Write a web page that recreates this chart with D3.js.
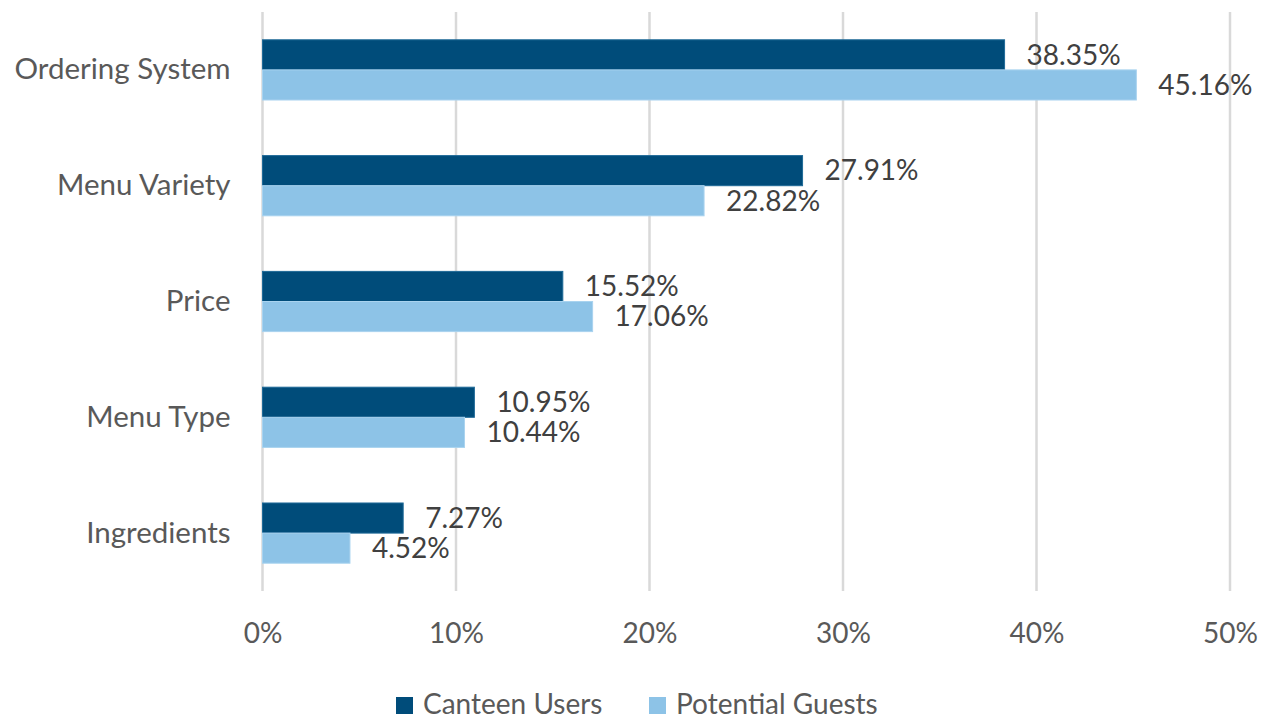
<!DOCTYPE html>
<html>
<head>
<meta charset="utf-8">
<script src="https://cdn.jsdelivr.net/npm/d3@7"></script>
<style>
  body { margin: 0; background: #fff; }
  text { font-family: Lato, "Open Sans", sans-serif; }
</style>
</head>
<body>
<div id="vis"></div>
<script>
// Chart data
const categories = ['Ordering System', 'Menu Variety', 'Price', 'Menu Type', 'Ingredients'];
const canteenUsers = [38.35, 27.91, 15.52, 10.95, 7.27];
const potentialGuests = [45.16, 22.82, 17.06, 10.44, 4.52];
const seriesNames = ['Canteen Users', 'Potential Guests'];
const xTicks = [0, 10, 20, 30, 40, 50];

const colors = { 'Canteen Users': '#004c7a', 'Potential Guests': '#8dc3e7' };
const strokes = { 'Canteen Users': '#1f6a98', 'Potential Guests': '#a9d3ef' };

const W = 1265, H = 720;
const plot = { left: 262.5, right: 1230, top: 12, bottom: 591 };

const svg = d3.select('#vis').append('svg')
    .attr('width', W)
    .attr('height', H);

const xScale = d3.scaleLinear().domain([0, 50]).range([plot.left, plot.right]);
const yScale = d3.scaleBand().domain(categories)
    .range([plot.top, plot.bottom])
    .paddingInner(0.48)
    .paddingOuter(0.24);
const subScale = d3.scaleBand().domain(seriesNames).range([0, yScale.bandwidth()]);

// Gridlines
svg.append('g').selectAll('line')
    .data(xTicks)
    .join('line')
    .attr('x1', d => xScale(d)).attr('x2', d => xScale(d))
    .attr('y1', plot.top).attr('y2', plot.bottom)
    .attr('stroke', '#d9d9d9')
    .attr('stroke-width', 2.5);

// x axis tick labels
const xAxis = d3.axisBottom(xScale).tickValues(xTicks).tickFormat(d => d + '%').tickSize(0).tickPadding(0);
const xg = svg.append('g').attr('transform', `translate(0, 633)`).call(xAxis);
xg.select('.domain').remove();
xg.selectAll('text')
    .attr('dy', '0.35em')
    .attr('fill', '#595959')
    .style('font-size', '28px')
    .style('font-family', 'Lato, sans-serif');

// y axis category labels
const yAxis = d3.axisLeft(yScale).tickSize(0).tickPadding(32);
const yg = svg.append('g').attr('transform', `translate(${plot.left}, 0)`).call(yAxis);
yg.select('.domain').remove();
yg.selectAll('text')
    .attr('fill', '#595959')
    .style('font-size', '29.5px')
    .style('font-family', 'Lato, sans-serif');

// Bars
const rows = categories.map((c, i) => ({
    cat: c,
    values: [
        { series: 'Canteen Users', value: canteenUsers[i] },
        { series: 'Potential Guests', value: potentialGuests[i] }
    ]
}));

const groups = svg.append('g').selectAll('g')
    .data(rows)
    .join('g')
    .attr('transform', d => `translate(0, ${yScale(d.cat)})`);

groups.selectAll('rect')
    .data(d => d.values)
    .join('rect')
    .attr('x', xScale(0))
    .attr('y', d => subScale(d.series))
    .attr('width', d => xScale(d.value) - xScale(0))
    .attr('height', subScale.bandwidth())
    .attr('fill', d => colors[d.series])
    .attr('stroke', d => strokes[d.series])
    .attr('stroke-width', 1);

groups.selectAll('text')
    .data(d => d.values)
    .join('text')
    .attr('x', d => xScale(d.value) + 22)
    .attr('y', d => subScale(d.series) + subScale.bandwidth() / 2)
    .attr('dy', '0.35em')
    .attr('fill', '#404040')
    .style('font-size', '28px')
    .text(d => d.value.toFixed(2) + '%');

// Legend
const legendX = [396, 649];
const legend = svg.append('g').selectAll('g')
    .data(seriesNames)
    .join('g')
    .attr('transform', (d, i) => `translate(${legendX[i]}, 697)`);

legend.append('rect')
    .attr('width', 17)
    .attr('height', 17)
    .attr('fill', d => colors[d]);

legend.append('text')
    .attr('x', 27)
    .attr('y', 7)
    .attr('dy', '0.35em')
    .attr('fill', '#595959')
    .style('font-size', '28px')
    .text(d => d);
</script>
</body>
</html>
